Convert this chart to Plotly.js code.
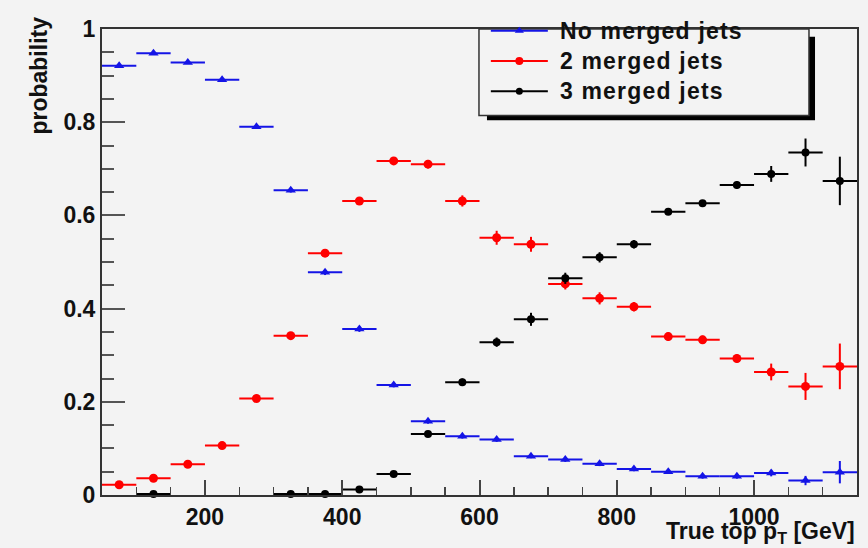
<!DOCTYPE html>
<html>
<head>
<meta charset="utf-8">
<script src="https://cdn.plot.ly/plotly-3.0.1.min.js"></script>
<style>
  html, body { margin: 0; padding: 0; background: #f3f3f3; }
  #chart { width: 868px; height: 548px; }
  .legendtext { letter-spacing: 1.2px; }
</style>
</head>
<body>
<div id="chart"></div>
<script>
// Bin centres of true top pT [GeV] (bins 50 GeV wide)
const ptBins = [75,125,175,225,275,325,375,425,475,525,575,625,675,725,775,825,875,925,975,1025,1075,1125];
const binHalfWidth = 25;

const seriesNames = ["No merged jets", "2 merged jets", "3 merged jets"];

const noMerged    = [0.921,0.948,0.928,0.891,0.790,0.654,0.478,0.356,0.236,0.158,0.126,0.119,0.083,0.076,0.067,0.056,0.050,0.040,0.040,0.047,0.031,0.049];
const noMergedErr = [0.003,0.002,0.002,0.003,0.004,0.005,0.006,0.006,0.005,0.005,0.005,0.005,0.004,0.005,0.005,0.005,0.005,0.005,0.005,0.007,0.010,0.024];

const twoMerged    = [0.022,0.036,0.066,0.106,0.207,0.342,0.519,0.631,0.717,0.710,0.631,0.552,0.538,0.453,0.422,0.404,0.340,0.333,0.293,0.264,0.233,0.276];
const twoMergedErr = [0.003,0.003,0.004,0.005,0.005,0.006,0.007,0.007,0.008,0.009,0.012,0.015,0.016,0.012,0.013,0.010,0.009,0.009,0.009,0.018,0.029,0.049];

const threeMerged    = [null,0.002,null,null,null,0.002,0.002,0.012,0.045,0.131,0.242,0.328,0.377,0.465,0.510,0.538,0.608,0.626,0.665,0.689,0.735,0.674];
const threeMergedErr = [0,0.001,0,0,0,0.001,0.001,0.002,0.004,0.006,0.008,0.010,0.014,0.012,0.011,0.009,0.007,0.007,0.008,0.017,0.030,0.052];

const xTickVals = [200,400,600,800,1000];
const yTickVals = [0,0.2,0.4,0.6,0.8,1];
const yTickText = ["0","0.2","0.4","0.6","0.8","1"];

const bg = "#f3f3f3";
const colors = ["#1414e6", "#ff0000", "#000000"];
const symbols = ["triangle-up", "circle", "circle"];
const sizes = [9, 9, 8];

function dataTrace(y, err, i) {
  return {
    type: "scatter", mode: "markers", x: ptBins, y: y, name: seriesNames[i],
    showlegend: false, cliponaxis: false,
    marker: { color: colors[i], symbol: symbols[i], size: sizes[i] },
    error_x: { type: "constant", value: binHalfWidth, color: colors[i], thickness: 2, width: 0 },
    error_y: { type: "data", array: err, color: colors[i], thickness: 2, width: 0 }
  };
}
function legendTrace(i) {
  return {
    type: "scatter", mode: "lines+markers", x: [null], y: [null],
    name: '\u00a0<span style="font-size:23px">' + seriesNames[i] + '</span>',
    showlegend: true,
    line: { color: colors[i], width: 2 },
    marker: { color: colors[i], symbol: symbols[i], size: sizes[i] - 1 }
  };
}

const traces = [
  dataTrace(noMerged, noMergedErr, 0),
  dataTrace(twoMerged, twoMergedErr, 1),
  dataTrace(threeMerged, threeMergedErr, 2),
  legendTrace(0), legendTrace(1), legendTrace(2)
];

const layout = {
  width: 868, height: 548,
  margin: { l: 102, r: 11, t: 15, b: 53 },
  paper_bgcolor: bg, plot_bgcolor: bg,
  font: { family: "Liberation Sans, Arial, sans-serif", size: 23, color: "#111", weight: 700 },
  showlegend: true,
  xaxis: {
    range: [50, 1150], tickvals: xTickVals, ticks: "inside", ticklen: 15, tickwidth: 2, tickcolor: "#444",
    minor: { dtick: 50, ticks: "inside", ticklen: 8, tickwidth: 1.5, tickcolor: "#444" },
    showgrid: false, zeroline: false, showline: true, linecolor: "#333", linewidth: 2, mirror: true,
    tickfont: { size: 23, weight: 700 }, fixedrange: true
  },
  yaxis: {
    range: [0, 1], tickvals: yTickVals, ticktext: yTickText, ticks: "inside", ticklen: 23, tickwidth: 2, tickcolor: "#555",
    minor: { dtick: 0.05, ticks: "inside", ticklen: 12, tickwidth: 2, tickcolor: "#555" },
    showgrid: false, zeroline: false, showline: true, linecolor: "#333", linewidth: 2, mirror: true,
    tickfont: { size: 23, weight: 700 }, fixedrange: true
  },
  legend: {
    x: 0.5084, y: 1.0396, xanchor: "left", yanchor: "top",
    bgcolor: "rgba(0,0,0,0)", borderwidth: 0,
    font: { size: 21, weight: 700, color: "#111" },
    itemwidth: 57, tracegroupgap: 0
  },
  shapes: [
    // legend drop shadow
    { type: "rect", xref: "paper", yref: "paper", x0: 0.5099, x1: 0.9444, y0: 0.8042, y1: 0.9833,
      fillcolor: "#000", line: { width: 0 }, layer: "above" },
    // legend box
    { type: "rect", xref: "paper", yref: "paper", x0: 0.4993, x1: 0.9364, y0: 0.8146, y1: 1.0,
      fillcolor: bg, line: { color: "#333", width: 1.5 }, layer: "above" }
  ],
  annotations: [
    { text: "probability", xref: "paper", yref: "paper", x: -0.0834, y: 1.031,
      xanchor: "center", yanchor: "top", textangle: -90, showarrow: false,
      font: { size: 23, weight: 700, color: "#111" } },
    { text: "True top p<sub>T</sub> [GeV]", xref: "paper", yref: "paper", x: 1.0, y: -0.046,
      xanchor: "right", yanchor: "top", showarrow: false,
      font: { size: 23, weight: 700, color: "#111" } }
  ]
};

Plotly.newPlot("chart", traces, layout, { displayModeBar: false, staticPlot: true });
</script>
</body>
</html>
